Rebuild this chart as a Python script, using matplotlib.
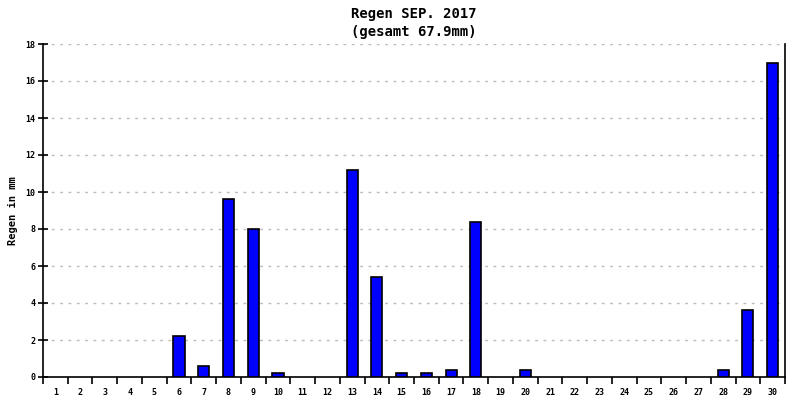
import numpy as np
import matplotlib.pyplot as plt

days = np.arange(1, 31)
rain = [0, 0, 0, 0, 0, 2.2, 0.6, 9.6, 8.0, 0.2,
        0, 0, 11.2, 5.4, 0.2, 0.2, 0.4, 8.4, 0, 0.4,
        0, 0, 0, 0, 0, 0, 0, 0.4, 3.6, 17.0]
title = "Regen SEP. 2017\n(gesamt 67.9mm)"
ylabel = "Regen in mm"
yticks = [0, 2, 4, 6, 8, 10, 12, 14, 16, 18]

plt.rcParams['font.family'] = 'DejaVu Sans Mono'

fig = plt.figure(figsize=(8, 4), dpi=100)
ax = fig.add_axes([43/800, 23/400, 742/800, 333/400])

# only days with rain get a bar
rain = np.array(rain)
wet = rain > 0
ax.bar(days[wet], rain[wet], width=0.45, color='#0000ff', edgecolor='black',
       linewidth=1.2, zorder=3)

ax.set_xlim(0.5, 30.5)
ax.set_ylim(0, 18)

ax.set_yticks(yticks)
ax.set_yticklabels([str(v) for v in yticks], fontsize=6, fontweight='bold')
ax.tick_params(axis='y', direction='inout', length=7, width=1.2, pad=2)

ax.set_xticks(np.arange(0.5, 31.5, 1))
ax.set_xticklabels([])
ax.set_xticks(days, minor=True)
ax.set_xticklabels([str(d) for d in days], minor=True, fontsize=6, fontweight='bold')
ax.tick_params(axis='x', which='major', direction='out', length=5, width=1.2)
ax.tick_params(axis='x', which='minor', length=0, pad=8)

ax.grid(axis='y', color='#bbbbbb', linestyle=(0, (2, 4)), linewidth=1, zorder=0)

ax.spines['top'].set_visible(False)
for s in ['left', 'bottom', 'right']:
    ax.spines[s].set_linewidth(1.2)

ax.set_ylabel(ylabel, fontsize=7.5, fontweight='bold', labelpad=5)
ax.set_title(title, fontsize=10, fontweight='bold', pad=6, linespacing=1.3)

fig.savefig('out.png', dpi=100)
